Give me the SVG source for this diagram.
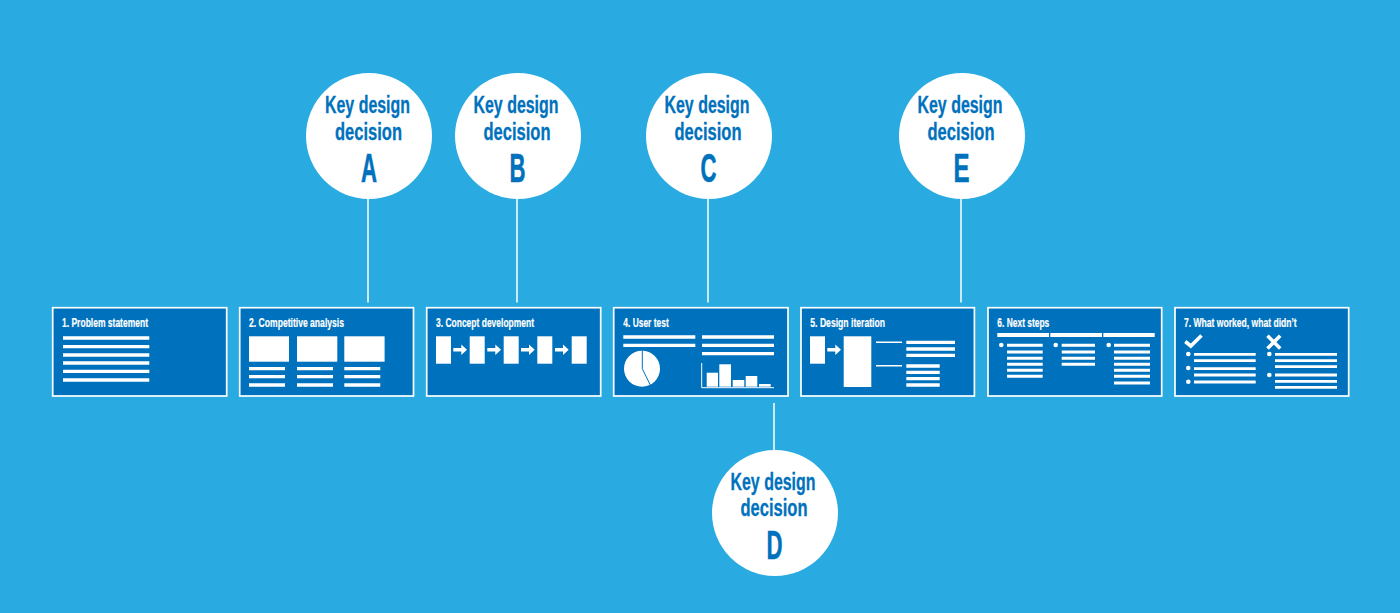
<svg xmlns="http://www.w3.org/2000/svg" xmlns:xlink="http://www.w3.org/1999/xlink" width="1400" height="613" viewBox="0 0 1400 613">
<style>
.card{fill:#0071bc;stroke:#fff;stroke-width:1.7}
.t{font-family:"Liberation Sans",Arial,sans-serif;font-weight:700;font-size:12.8px;fill:#fff;stroke:#fff;stroke-width:.2}
.k{font-family:"Liberation Sans",Arial,sans-serif;font-weight:700;font-size:23px;fill:#0071bc;stroke:#0071bc;stroke-width:.3;text-anchor:middle}
.l{font-family:"Liberation Sans",Arial,sans-serif;font-weight:700;font-size:40px;fill:#0071bc;stroke:#0071bc;stroke-width:.6;text-anchor:middle}
.c{fill:#fff}
.w{fill:#fff}
.ln{stroke:#fff;stroke-width:3.3;fill:none}
.th{stroke:#fff;stroke-width:1.4;fill:none}
.con{stroke:#fff;stroke-width:1.5;fill:none}
.ck{stroke:#fff;stroke-width:3.6;fill:none}
</style>
<defs>
<path id="arr" d="M0 -1.8H8V-5.2L13.7 0L8 5.2V1.8H0Z" fill="#fff"/>
</defs>
<rect width="1400" height="613" fill="#29abe2"/>
<g id="connectors">
<path class="con" d="M368 196V302.5M517 196V302.5M708 196V302.5M961 196V302.5M774 403V452"/>
</g>
<g id="card1">
<rect class="card" x="52.7" y="307.7" width="174" height="88.3"/>
<text class="t" x="62" y="326.7" textLength="86" lengthAdjust="spacingAndGlyphs">1. Problem statement</text>
<path class="ln" d="M63 338H149.3M63 346.6H149.3M63 355H149.3M63 363H149.3M63 371.3H149.3M63 380H149.3"/>
</g>
<g id="card2">
<rect class="card" x="239.7" y="307.7" width="173.8" height="88.3"/>
<text class="t" x="249" y="326.7" textLength="95" lengthAdjust="spacingAndGlyphs">2. Competitive analysis</text>
<rect class="w" x="249" y="336.3" width="40" height="25.4"/>
<rect class="w" x="297" y="336.3" width="40.3" height="25.4"/>
<rect class="w" x="344.3" y="336.3" width="40.3" height="25.4"/>
<path class="ln" d="M249 368.7H285M249 376.7H285M249 385H285M297 368.7H333M297 376.7H333M297 385H333M344.3 368.7H380.3M344.3 376.7H380.3M344.3 385H380.3"/>
</g>
<g id="card3">
<rect class="card" x="426.7" y="307.7" width="174" height="88.3"/>
<text class="t" x="436" y="326.7" textLength="98" lengthAdjust="spacingAndGlyphs">3. Concept development</text>
<rect class="w" x="436" y="336.3" width="15" height="27.4"/>
<rect class="w" x="469.7" y="336.3" width="15" height="27.4"/>
<rect class="w" x="503.7" y="336.3" width="15" height="27.4"/>
<rect class="w" x="537.3" y="336.3" width="15" height="27.4"/>
<rect class="w" x="571.7" y="336.3" width="15" height="27.4"/>
<use xlink:href="#arr" x="453.3" y="349.7"/>
<use xlink:href="#arr" x="487.3" y="349.7"/>
<use xlink:href="#arr" x="521" y="349.7"/>
<use xlink:href="#arr" x="555" y="349.7"/>
</g>
<g id="card4">
<rect class="card" x="613.7" y="307.7" width="174.3" height="88.3"/>
<text class="t" x="623.3" y="326.7" textLength="45.4" lengthAdjust="spacingAndGlyphs">4. User test</text>
<path class="ln" d="M623.3 337H695.3M623.3 345.3H695.3M702 337H774M702 345.3H774M702 353.7H774"/>
<circle class="w" cx="642" cy="368.7" r="18"/>
<path d="M642.3 350.7V368.7L650.3 385" stroke="#0071bc" stroke-width="1" fill="none"/>
<path d="M701.7 363V387.7H774" stroke="#fff" stroke-width="1" fill="none"/>
<rect class="w" x="706.7" y="372.7" width="11.3" height="14"/>
<rect class="w" x="719.3" y="364.3" width="11.7" height="22.4"/>
<rect class="w" x="732.7" y="380" width="11.6" height="6.7"/>
<rect class="w" x="745.7" y="376" width="11.6" height="10.7"/>
<rect class="w" x="759" y="384" width="11.7" height="2.7"/>
</g>
<g id="card5">
<rect class="card" x="801" y="307.7" width="173.4" height="88.3"/>
<text class="t" x="810.3" y="326.7" textLength="74.7" lengthAdjust="spacingAndGlyphs">5. Design iteration</text>
<rect class="w" x="810" y="336.3" width="15" height="27.4"/>
<use xlink:href="#arr" x="827.3" y="349.7"/>
<rect class="w" x="843.7" y="336.3" width="27.6" height="50.7"/>
<path class="th" d="M876 342.3H902M876 365.7H902"/>
<path class="ln" d="M906.3 342.3H955M906.3 349H955M906.3 355.3H955M906.3 366H939.7M906.3 372.3H939.7M906.3 378.7H939.7M906.3 385H939.7"/>
</g>
<g id="card6">
<rect class="card" x="988" y="307.7" width="173.7" height="88.3"/>
<text class="t" x="997.3" y="326.7" textLength="52" lengthAdjust="spacingAndGlyphs">6. Next steps</text>
<path class="ln" style="stroke-width:4" d="M997.3 335H1049M1050.3 335H1102M1103.3 335H1154.7"/>
<circle class="w" cx="1001.3" cy="345" r="2.3"/>
<circle class="w" cx="1055.7" cy="345" r="2.3"/>
<circle class="w" cx="1108.7" cy="345" r="2.3"/>
<path class="ln" style="stroke-width:3" d="M1007 345.3H1042.7M1007 352H1042.7M1007 358.3H1042.7M1007 364.3H1042.7M1007 370.3H1042.7M1007 376.3H1042.7M1061.7 345.3H1095M1061.7 352H1095M1061.7 358.3H1095M1061.7 364.3H1095M1114 345.3H1150M1114 352H1150M1114 358.3H1150M1114 364.3H1150M1114 370.3H1150M1114 376.3H1150M1114 383H1150"/>
</g>
<g id="card7">
<rect class="card" x="1175" y="307.7" width="173.7" height="88.3"/>
<text class="t" x="1184" y="326.7" textLength="112.7" lengthAdjust="spacingAndGlyphs">7. What worked, what didn’t</text>
<path class="ck" d="M1185.3 341.5L1190.8 346L1201.5 335.5"/>
<path class="ck" d="M1267.5 335.8L1280.2 348.5M1280.2 335.8L1267.5 348.5"/>
<circle class="w" cx="1188.3" cy="354" r="2.3"/>
<circle class="w" cx="1188.3" cy="368" r="2.3"/>
<circle class="w" cx="1188.3" cy="381.7" r="2.3"/>
<circle class="w" cx="1269.3" cy="354" r="2.3"/>
<circle class="w" cx="1269.3" cy="375" r="2.3"/>
<path class="ln" style="stroke-width:2.8" d="M1194 354.3H1255.7M1194 360.7H1255.7M1194 368.7H1255.7M1194 375H1255.7M1194 382H1255.7M1275 354.3H1337M1275 360.7H1337M1275 366.7H1337M1275 375H1337M1275 381.3H1337M1275 387.3H1337"/>
</g>
<g id="decisionA">
<circle class="c" cx="369" cy="136" r="63"/>
<text class="k" x="367.5" y="113" textLength="85" lengthAdjust="spacingAndGlyphs">Key design</text>
<text class="k" x="368.5" y="140" textLength="67" lengthAdjust="spacingAndGlyphs">decision</text>
<text class="l" x="369" y="181.7" textLength="16" lengthAdjust="spacingAndGlyphs">A</text>
</g>
<g id="decisionB">
<circle class="c" cx="518" cy="136" r="63"/>
<text class="k" x="516" y="113" textLength="85" lengthAdjust="spacingAndGlyphs">Key design</text>
<text class="k" x="517" y="140" textLength="67" lengthAdjust="spacingAndGlyphs">decision</text>
<text class="l" x="517.5" y="181.7" textLength="16" lengthAdjust="spacingAndGlyphs">B</text>
</g>
<g id="decisionC">
<circle class="c" cx="709" cy="136" r="63"/>
<text class="k" x="707" y="113" textLength="85" lengthAdjust="spacingAndGlyphs">Key design</text>
<text class="k" x="708" y="140" textLength="67" lengthAdjust="spacingAndGlyphs">decision</text>
<text class="l" x="708.5" y="181.7" textLength="16" lengthAdjust="spacingAndGlyphs">C</text>
</g>
<g id="decisionE">
<circle class="c" cx="962" cy="136" r="63"/>
<text class="k" x="960" y="113" textLength="85" lengthAdjust="spacingAndGlyphs">Key design</text>
<text class="k" x="961" y="140" textLength="67" lengthAdjust="spacingAndGlyphs">decision</text>
<text class="l" x="961.5" y="181.7" textLength="16" lengthAdjust="spacingAndGlyphs">E</text>
</g>
<g id="decisionD">
<circle class="c" cx="775" cy="513" r="63"/>
<text class="k" x="773" y="489.5" textLength="85" lengthAdjust="spacingAndGlyphs">Key design</text>
<text class="k" x="774" y="516" textLength="67" lengthAdjust="spacingAndGlyphs">decision</text>
<text class="l" x="774.5" y="558.5" textLength="16" lengthAdjust="spacingAndGlyphs">D</text>
</g>
</svg>
